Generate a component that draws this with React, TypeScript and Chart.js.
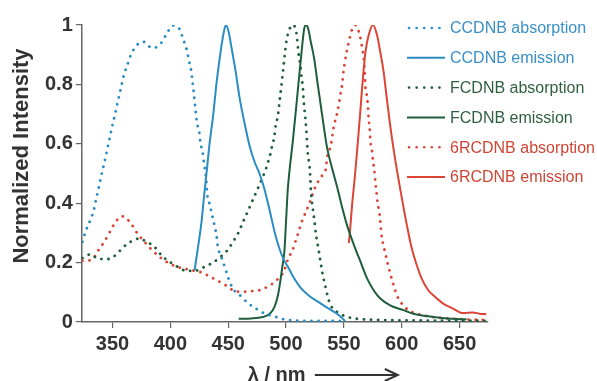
import React, { useEffect, useRef } from 'react';
import { Chart, registerables } from 'chart.js';

Chart.register(...registerables);

// ---- data (wavelength in nm, normalized intensity) ----
const xTicks = [350, 400, 450, 500, 550, 600, 650];
const yTicks = [0, 0.2, 0.4, 0.6, 0.8, 1];

const seriesNames = [
  'CCDNB absorption',
  'CCDNB emission',
  'FCDNB absorption',
  'FCDNB emission',
  '6RCDNB absorption',
  '6RCDNB emission',
];

const ccdnbAbsX = [324, 327, 331, 334, 336, 338, 340, 342, 344, 346, 348, 350, 352, 354, 356, 358, 360, 363, 366, 371, 377, 384, 390, 396, 402, 408, 411, 414, 416, 418, 419, 420, 421, 422, 423, 425, 426, 428, 429, 431, 432, 434, 436, 438, 440, 441, 444, 447, 450, 454, 461, 467, 474, 482, 489, 496, 505, 520, 535, 550];
const ccdnbAbsY = [0.27, 0.307, 0.345, 0.379, 0.416, 0.45, 0.486, 0.52, 0.554, 0.591, 0.627, 0.663, 0.695, 0.731, 0.765, 0.8, 0.833, 0.867, 0.9, 0.932, 0.943, 0.923, 0.93, 0.964, 0.998, 0.986, 0.953, 0.919, 0.881, 0.847, 0.814, 0.78, 0.742, 0.706, 0.672, 0.638, 0.604, 0.57, 0.537, 0.48, 0.427, 0.396, 0.362, 0.328, 0.288, 0.254, 0.22, 0.186, 0.149, 0.113, 0.087, 0.064, 0.045, 0.028, 0.02, 0.011, 0.006, 0.004, 0.004, 0.003];

const ccdnbEmX = [421, 424, 427, 429, 431.5, 434, 437, 440, 443, 446, 448, 450, 453, 456.5, 460, 464, 468.5, 473, 477, 481, 486, 490, 494, 498, 501, 507, 513, 521, 530, 539, 544, 549, 551];
const ccdnbEmY = [0.175, 0.254, 0.339, 0.418, 0.51, 0.604, 0.695, 0.808, 0.898, 0.972, 1.0, 0.983, 0.921, 0.842, 0.751, 0.672, 0.593, 0.537, 0.5, 0.452, 0.373, 0.305, 0.25, 0.21, 0.19, 0.147, 0.113, 0.085, 0.062, 0.04, 0.028, 0.011, 0.003];

const fcdnbAbsX = [324, 331, 338, 346, 353, 359, 366, 373, 379, 386, 393, 400, 407, 414, 421, 428, 436, 443, 449, 454, 459, 463, 467, 471, 475, 479, 483, 486, 488, 490, 491, 493, 494, 495, 496, 497, 498, 499, 500, 502, 505.5, 508.5, 511, 512.5, 513.5, 514.5, 515, 515.7, 516.6, 517.4, 518, 518.6, 519.7, 520.6, 521, 521.4, 522.3, 523.4, 524.6, 525.7, 527.1, 528.6, 530, 531.4, 533.4, 535.7, 538.6, 544, 553, 561, 580, 620, 675];
const fcdnbAbsY = [0.215, 0.228, 0.212, 0.212, 0.226, 0.251, 0.271, 0.281, 0.271, 0.254, 0.222, 0.201, 0.184, 0.172, 0.172, 0.183, 0.198, 0.218, 0.24, 0.269, 0.302, 0.339, 0.373, 0.409, 0.444, 0.48, 0.52, 0.559, 0.593, 0.627, 0.661, 0.695, 0.729, 0.763, 0.797, 0.831, 0.867, 0.904, 0.938, 0.975, 1.0, 0.983, 0.898, 0.859, 0.819, 0.791, 0.757, 0.723, 0.689, 0.65, 0.616, 0.576, 0.542, 0.508, 0.48, 0.446, 0.407, 0.373, 0.339, 0.299, 0.266, 0.232, 0.198, 0.164, 0.13, 0.09, 0.056, 0.034, 0.017, 0.011, 0.007, 0.005, 0.004];

const fcdnbEmX = [459, 470, 480, 486, 490, 493, 495, 496.6, 498.6, 500, 501.4, 503, 505.7, 508.6, 511.4, 513.7, 515.7, 517.1, 519.1, 521.4, 524.3, 527.1, 530, 532.9, 535.7, 540, 544.3, 548.6, 553, 558.6, 564.3, 570, 575.7, 581.4, 590, 601.4, 610, 621.4, 633, 644.3, 656];
const fcdnbEmY = [0.011, 0.012, 0.017, 0.028, 0.051, 0.09, 0.136, 0.181, 0.24, 0.339, 0.441, 0.51, 0.604, 0.717, 0.83, 0.921, 0.988, 1.0, 0.988, 0.943, 0.887, 0.808, 0.729, 0.65, 0.582, 0.514, 0.452, 0.384, 0.322, 0.26, 0.203, 0.147, 0.107, 0.079, 0.056, 0.04, 0.028, 0.02, 0.014, 0.011, 0.009];

const rcdnbAbsX = [324, 332, 337, 343, 348, 353, 358.6, 365, 371.4, 377, 384, 391.4, 398.6, 405.7, 413, 421, 427, 434, 441.4, 448.6, 455.7, 463, 470, 477, 484, 491.4, 498.6, 501.4, 505.7, 508.6, 511.4, 514.3, 518, 521.4, 524.3, 528, 532.9, 534.3, 535.7, 538.6, 541.4, 543.7, 545.7, 547.1, 548.6, 549.4, 550.6, 552.3, 554.3, 556.3, 560, 562.9, 565.1, 567.7, 568.6, 570, 570.9, 571.4, 572.3, 572.9, 574.3, 575.1, 576.3, 577.1, 578, 579.1, 580.9, 582.3, 583.7, 585.7, 587.7, 590, 592.9, 595.7, 600, 605.7, 612.9, 621.4, 633, 644.3, 660, 672];
const rcdnbAbsY = [0.206, 0.209, 0.237, 0.271, 0.305, 0.339, 0.356, 0.337, 0.299, 0.273, 0.243, 0.217, 0.198, 0.186, 0.179, 0.172, 0.167, 0.153, 0.138, 0.122, 0.104, 0.102, 0.104, 0.107, 0.119, 0.139, 0.175, 0.209, 0.243, 0.277, 0.311, 0.345, 0.379, 0.412, 0.446, 0.475, 0.503, 0.514, 0.559, 0.593, 0.661, 0.695, 0.734, 0.768, 0.802, 0.836, 0.87, 0.909, 0.943, 0.977, 1.0, 0.977, 0.938, 0.859, 0.791, 0.757, 0.717, 0.683, 0.65, 0.61, 0.576, 0.542, 0.508, 0.475, 0.441, 0.401, 0.362, 0.299, 0.266, 0.232, 0.198, 0.164, 0.124, 0.09, 0.062, 0.04, 0.028, 0.02, 0.014, 0.011, 0.008, 0.007];

const rcdnbEmX = [554.3, 555.7, 557.1, 559.1, 560, 562, 564.3, 566.6, 568.6, 571.4, 575.1, 578.6, 581.4, 584.3, 587.1, 590, 592.9, 595.7, 600, 604.3, 608.6, 612.9, 617.1, 622.9, 628.6, 635.7, 644.3, 652.9, 661.4, 667.1, 673];
const rcdnbEmY = [0.266, 0.328, 0.396, 0.475, 0.514, 0.604, 0.717, 0.83, 0.909, 0.966, 1.0, 0.966, 0.909, 0.842, 0.751, 0.661, 0.582, 0.514, 0.418, 0.328, 0.248, 0.192, 0.147, 0.107, 0.085, 0.062, 0.045, 0.03, 0.032, 0.028, 0.026];

// ---- styles ----
const BLUE = '#2b8cc4';
const GREEN = '#1f5e3d';
const RED = '#dc4535';
const BLUE_TXT = '#3a8fc7';
const GREEN_TXT = '#2f5f3f';
const RED_TXT = '#cf4636';
const FONT = '"Liberation Sans", Arial, sans-serif';
const DOTS = [0.1, 7];

export default function App() {
  const ref = useRef<HTMLCanvasElement>(null);

  useEffect(() => {
    const pts = (xs: number[], ys: number[]) => xs.map((x, i) => ({ x, y: ys[i] }));
    const mk = (i: number, xs: number[], ys: number[], color: string, dotted: boolean) => ({
      label: seriesNames[i],
      data: pts(xs, ys),
      borderColor: color,
      backgroundColor: color,
      borderWidth: dotted ? 2.8 : 2,
      borderDash: dotted ? DOTS : [],
      borderCapStyle: dotted ? 'round' : 'butt',
      borderJoinStyle: 'round',
      pointRadius: 0,
      fill: false,
      cubicInterpolationMode: 'monotone',
    });
    const datasets: any[] = [
      mk(0, ccdnbAbsX, ccdnbAbsY, BLUE, true),
      mk(1, ccdnbEmX, ccdnbEmY, BLUE, false),
      mk(2, fcdnbAbsX, fcdnbAbsY, GREEN, true),
      mk(3, fcdnbEmX, fcdnbEmY, GREEN, false),
      mk(4, rcdnbAbsX, rcdnbAbsY, RED, true),
      mk(5, rcdnbEmX, rcdnbEmY, RED, false),
    ];
    const txtColors = [BLUE_TXT, BLUE_TXT, GREEN_TXT, GREEN_TXT, RED_TXT, RED_TXT];

    const overlay = {
      id: 'overlay',
      afterDraw(chart: any) {
        const ctx = chart.ctx as CanvasRenderingContext2D;
        const ca = chart.chartArea;
        ctx.save();
        // legend
        datasets.forEach((ds, i) => {
          const y = ca.top + 3 + i * 29.8;
          const x0 = ca.right - 81;
          const dotted = ds.borderDash.length > 0;
          ctx.beginPath();
          ctx.strokeStyle = ds.borderColor;
          ctx.lineWidth = dotted ? 2.6 : 2;
          ctx.lineCap = dotted ? 'round' : 'butt';
          ctx.setLineDash(dotted ? [0.1, 7.5] : []);
          ctx.moveTo(dotted ? x0 + 2 : x0, y);
          ctx.lineTo(x0 + 38, y);
          ctx.stroke();
          ctx.setLineDash([]);
          ctx.fillStyle = txtColors[i];
          ctx.font = `16px ${FONT}`;
          ctx.textAlign = 'left';
          ctx.textBaseline = 'middle';
          ctx.fillText(ds.label, x0 + 43, y + 1);
        });
        // y title
        ctx.save();
        ctx.translate(22, ca.top + 131);
        ctx.rotate(-Math.PI / 2);
        ctx.fillStyle = '#333';
        ctx.font = `bold 22px ${FONT}`;
        ctx.textAlign = 'center';
        ctx.textBaseline = 'middle';
        ctx.fillText('Normalized Intensity', 0, 0);
        ctx.restore();
        // x title + arrow
        const ty = ca.bottom + 53;
        ctx.fillStyle = '#333';
        ctx.font = `bold 20px ${FONT}`;
        ctx.textAlign = 'left';
        ctx.textBaseline = 'middle';
        ctx.fillText('λ / nm', ca.left + 166, ty);
        ctx.strokeStyle = '#333';
        ctx.lineWidth = 2;
        ctx.lineCap = 'butt';
        ctx.beginPath();
        ctx.moveTo(ca.left + 233, ty);
        ctx.lineTo(ca.left + 314, ty);
        ctx.stroke();
        ctx.beginPath();
        ctx.moveTo(ca.left + 303, ty - 6);
        ctx.lineTo(ca.left + 316, ty);
        ctx.lineTo(ca.left + 303, ty + 6);
        ctx.stroke();
        ctx.restore();
      },
    };

    const tickFont = { family: FONT, size: 20, weight: 'bold' as const };
    const chart = new Chart(ref.current as HTMLCanvasElement, {
      type: 'line',
      data: { datasets },
      options: {
        responsive: true,
        maintainAspectRatio: false,
        animation: false,
        layout: { padding: { left: 42, right: 109, top: 25, bottom: 21 } },
        plugins: { legend: { display: false }, tooltip: { enabled: false } },
        scales: {
          x: {
            type: 'linear',
            min: 323.5,
            max: 674.5,
            afterBuildTicks: (s: any) => {
              s.ticks = xTicks.map((v) => ({ value: v }));
            },
            ticks: { font: tickFont, color: '#333', padding: 4, maxRotation: 0 },
            grid: { drawOnChartArea: false, tickLength: 6, color: '#666', lineWidth: 1.2 },
            border: { color: '#666', width: 1.5 },
          },
          y: {
            type: 'linear',
            min: 0,
            max: 1,
            afterBuildTicks: (s: any) => {
              s.ticks = yTicks.map((v) => ({ value: v }));
            },
            ticks: {
              font: tickFont,
              color: '#333',
              padding: 3,
              callback: (v: any) => String(+Number(v).toFixed(1)),
            },
            grid: { drawOnChartArea: false, tickLength: 6, color: '#666', lineWidth: 1.2 },
            border: { color: '#666', width: 1.5 },
          },
        },
      } as any,
      plugins: [overlay],
    });
    return () => chart.destroy();
  }, []);

  return (
    <div style={{ position: 'absolute', left: 0, top: 0, width: 597, height: 381, background: '#fff' }}>
      <canvas ref={ref} />
    </div>
  );
}
